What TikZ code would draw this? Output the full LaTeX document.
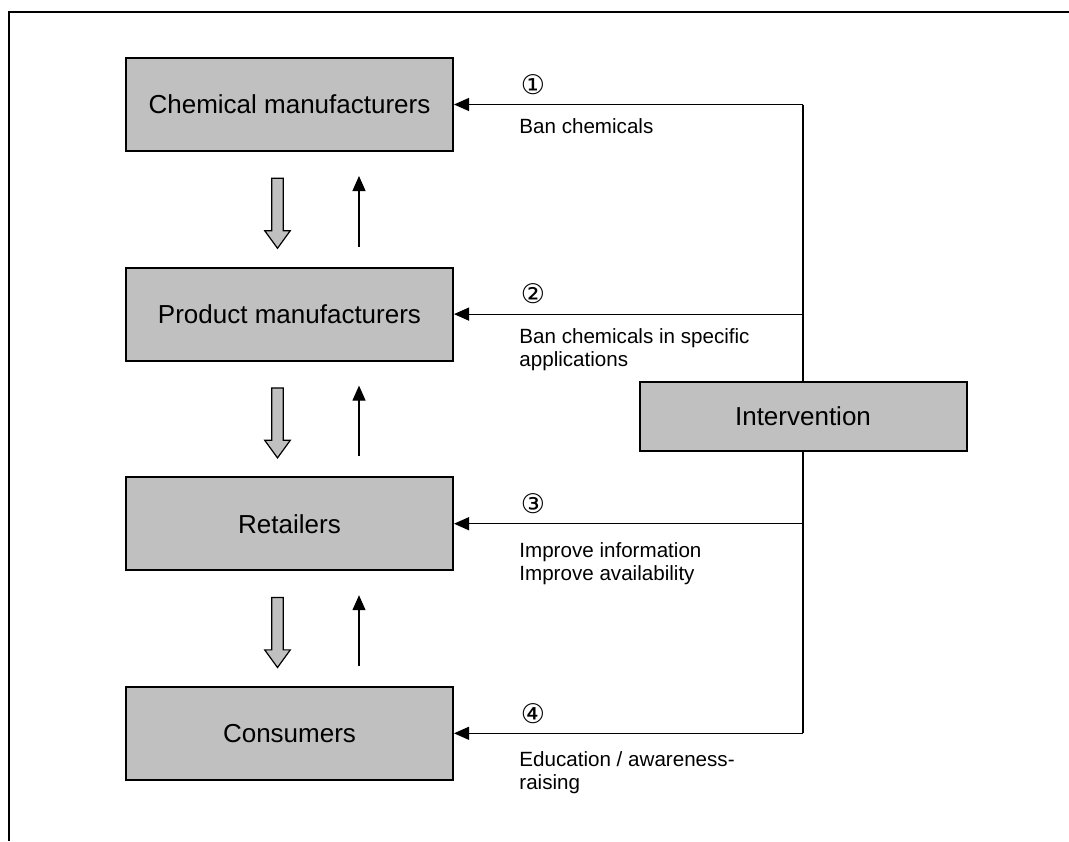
\documentclass[tikz,border=0pt]{standalone}
\usepackage{fontspec}
\setmainfont{Liberation Sans}
\newfontfamily\circfont{DejaVu Sans}
\usepackage{tikz}
\usetikzlibrary{arrows.meta,positioning,shapes.arrows,calc}
\definecolor{boxgray}{HTML}{C0C0C0}

\begin{document}
\begin{tikzpicture}[
    box/.style={rectangle, draw=black, line width=1pt, fill=boxgray, minimum width=163.5pt,
                minimum height=46.5pt, inner sep=0pt, align=center, font=\fontsize{13}{15.6}\selectfont},
    ibox/.style={box, minimum height=34.5pt},
    fatarrow/.style={single arrow, draw=black, line width=0.6pt, fill=boxgray, rotate=-90,
                minimum height=35pt, minimum width=12.5pt, inner sep=2.6pt,
                single arrow head extend=3.5pt, single arrow tip angle=72},
    arrow/.style={-{Triangle[length=7.5pt,width=6.5pt]}, line width=0.6pt},
    link/.style={line width=0.6pt},
    frame/.style={line width=0.8pt},
    lbl/.style={anchor=north west, inner sep=0pt, align=left, font=\fontsize{10.3}{11.5}\selectfont},
    num/.style={inner sep=0pt, font=\circfont\fontsize{13.5}{16}\selectfont},
    node distance=57.3pt
]
  \useasboundingbox (0,0) rectangle (534.5pt,-420.5pt);

  % Frame
  \draw[frame] (4.5pt,-420.5pt) -- (4.5pt,-6pt) -- (534.5pt,-6pt);

  % Supply chain
  \node[box] (chem) at (144.75pt,-52.25pt) {Chemical manufacturers};
  \node[box, below=of chem] (prod) {Product manufacturers};
  \node[box, below=of prod] (ret) {Retailers};
  \node[box, below=of ret] (cons) {Consumers};

  % Intervention
  \node[ibox] (interv) at (401.5pt,-208.25pt) {Intervention};

  % Flow down the chain
  \node[fatarrow] (d1) at ($(chem.south)!0.5!(prod.north)+(-6pt,0)$) {};
  \node[fatarrow] (d2) at ($(prod.south)!0.5!(ret.north)+(-6pt,0)$) {};
  \node[fatarrow] (d3) at ($(ret.south)!0.5!(cons.north)+(-6pt,0)$) {};

  % Flow up the chain
  \draw[arrow, shorten <=10pt, shorten >=12pt] ([xshift=34.75pt]prod.north) -- ([xshift=34.75pt]chem.south);
  \draw[arrow, shorten <=10pt, shorten >=12pt] ([xshift=34.75pt]ret.north) -- ([xshift=34.75pt]prod.south);
  \draw[arrow, shorten <=10pt, shorten >=12pt] ([xshift=34.75pt]cons.north) -- ([xshift=34.75pt]ret.south);

  % Intervention lines
  \coordinate (t1) at (interv.north |- chem.east);
  \coordinate (t2) at (interv.north |- prod.east);
  \coordinate (t3) at (interv.south |- ret.east);
  \coordinate (t4) at (interv.south |- cons.east);
  \draw[link] (t1) -- (interv.north);
  \draw[link] (interv.south) -- (t4);
  \draw[arrow] (t1) -- (chem.east);
  \draw[arrow] (t2) -- (prod.east);
  \draw[arrow] (t3) -- (ret.east);
  \draw[arrow] (t4) -- (cons.east);

  % Labels
  \node[num] (n1) at ($(chem.east)+(39.5pt,10pt)$) {①};
  \node[num] (n2) at ($(prod.east)+(39.5pt,10pt)$) {②};
  \node[num] (n3) at ($(ret.east)+(39.5pt,10pt)$) {③};
  \node[num] (n4) at ($(cons.east)+(39.5pt,10pt)$) {④};
  \node[lbl, below right=7pt and 32.5pt of chem.east] (l1) {Ban chemicals};
  \node[lbl, below right=7pt and 32.5pt of prod.east] (l2) {Ban chemicals in specific\\applications};
  \node[lbl, below right=9pt and 32.5pt of ret.east] (l3) {Improve information\\Improve availability};
  \node[lbl, below right=9pt and 32.5pt of cons.east] (l4) {Education / awareness-\\raising};

\end{tikzpicture}
\end{document}
